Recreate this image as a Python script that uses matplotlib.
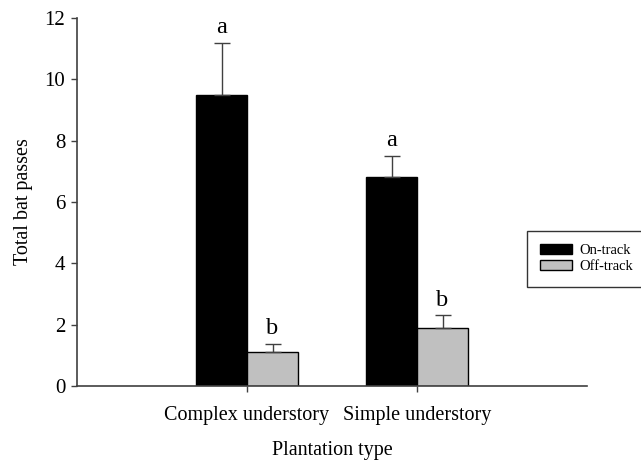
import matplotlib
matplotlib.use("Agg")
import matplotlib.pyplot as plt
from matplotlib.patches import Patch
import numpy as np

categories = ["Complex understory", "Simple understory"]
series = ["On-track", "Off-track"]
on_track = [9.5, 6.8]
on_track_err = [1.7, 0.7]
off_track = [1.1, 1.9]
off_track_err = [0.27, 0.4]
letters_on = ["a", "a"]
letters_off = ["b", "b"]
yticks = [0, 2, 4, 6, 8, 10, 12]

plt.rcParams['font.family'] = ['Liberation Serif', 'DejaVu Serif']

W, H = 641, 463
fig = plt.figure(figsize=(W/100, H/100), dpi=100)
ax = fig.add_axes([77/W, (H-386)/H, (587-77)/W, (386-18)/H])

x = np.arange(len(categories))
w = 0.3
axis_col = '#404040'
b1 = ax.bar(x - w/2, on_track, w, color='black', edgecolor='black', linewidth=1,
            yerr=[[0]*2, on_track_err], error_kw=dict(ecolor=axis_col, elinewidth=1, capsize=6, capthick=1))
b2 = ax.bar(x + w/2, off_track, w, color='#c0c0c0', edgecolor='black', linewidth=1,
            yerr=[[0]*2, off_track_err], error_kw=dict(ecolor=axis_col, elinewidth=1, capsize=6, capthick=1))

for i in range(len(categories)):
    ax.annotate(letters_on[i], (x[i] - w/2, on_track[i] + on_track_err[i]),
                xytext=(0, 7), textcoords='offset points', ha='center', va='baseline', fontsize=17.5)
    ax.annotate(letters_off[i], (x[i] + w/2, off_track[i] + off_track_err[i]),
                xytext=(0, 7), textcoords='offset points', ha='center', va='baseline', fontsize=17.5)

ax.set_xlim(-1, 2)
ax.set_ylim(0, 12)
ax.set_yticks(yticks)
ax.set_xticks(x)
ax.set_xticklabels(categories, fontsize=14.5)
ax.tick_params(axis='y', labelsize=15, direction='out', length=4.5, width=1, color=axis_col, pad=4)
ax.tick_params(axis='x', direction='out', length=4.5, width=1, color=axis_col, pad=10)
for s in ['top', 'right']:
    ax.spines[s].set_visible(False)
for s in ['left', 'bottom']:
    ax.spines[s].set_color(axis_col)
    ax.spines[s].set_linewidth(1.2)

ax.set_ylabel("Total bat passes", fontsize=14.5, labelpad=8)
ax.set_xlabel("Plantation type", fontsize=14.5, labelpad=11.5)

handles = [Patch(facecolor='black', edgecolor='black', linewidth=1, label=series[0]),
           Patch(facecolor='#c0c0c0', edgecolor='black', linewidth=1, label=series[1])]
leg = fig.legend(handles=handles, loc='upper left', bbox_to_anchor=(527/W, 1 - 231/H),
                 fontsize=10.5, frameon=True, fancybox=False, edgecolor='black',
                 handlelength=2.2, handleheight=0.7, handletextpad=0.5, borderpad=0.9,
                 labelspacing=0.2, borderaxespad=0)
leg.get_frame().set_linewidth(1)

fig.savefig("out.png", dpi=100)
